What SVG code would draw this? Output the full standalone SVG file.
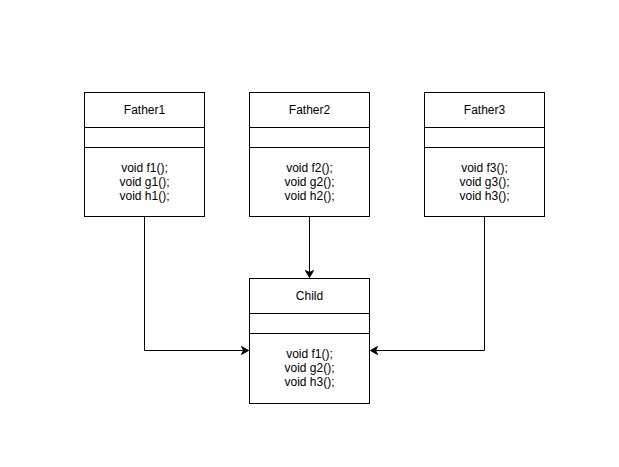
<svg xmlns="http://www.w3.org/2000/svg" width="619" height="467" viewBox="0 0 619 467">
<style>
.box{fill:#fff;stroke:#000;stroke-width:1}
.div{stroke:#000;stroke-width:1;fill:none}
.t{font-family:"Liberation Sans",Arial,Helvetica,sans-serif;font-size:12px;fill:#000;text-anchor:middle}
.edge{fill:none;stroke:#000;stroke-width:1}
</style>
<defs>
<marker id="arr" markerUnits="userSpaceOnUse" markerWidth="10" markerHeight="10" viewBox="0 0 10 10" refX="8" refY="5" orient="auto">
<path d="M1,1 L8,5 L1,9 L3,5 Z" fill="#000" stroke="#000" stroke-width="1"/>
</marker>
</defs>
<rect width="619" height="467" fill="#fff"/>
<g id="father1">
<rect class="box" x="84.5" y="92.5" width="120" height="124"/>
<path class="div" d="M84.5 127.5H204.5M84.5 147.5H204.5"/>
<text class="t" x="144.5" y="114">Father1</text>
<text class="t" x="144.5" y="172">void f1();</text>
<text class="t" x="144.5" y="186">void g1();</text>
<text class="t" x="144.5" y="200">void h1();</text>
</g>
<g id="father2">
<rect class="box" x="249.5" y="92.5" width="120" height="124"/>
<path class="div" d="M249.5 127.5H369.5M249.5 147.5H369.5"/>
<text class="t" x="309.5" y="114">Father2</text>
<text class="t" x="309.5" y="172">void f2();</text>
<text class="t" x="309.5" y="186">void g2();</text>
<text class="t" x="309.5" y="200">void h2();</text>
</g>
<g id="father3">
<rect class="box" x="424.5" y="92.5" width="120" height="124"/>
<path class="div" d="M424.5 127.5H544.5M424.5 147.5H544.5"/>
<text class="t" x="484.5" y="114">Father3</text>
<text class="t" x="484.5" y="172">void f3();</text>
<text class="t" x="484.5" y="186">void g3();</text>
<text class="t" x="484.5" y="200">void h3();</text>
</g>
<g id="child">
<rect class="box" x="249.5" y="278.5" width="120" height="125"/>
<path class="div" d="M249.5 313.5H369.5M249.5 333.5H369.5"/>
<text class="t" x="309.5" y="300">Child</text>
<text class="t" x="309.5" y="358">void f1();</text>
<text class="t" x="309.5" y="372">void g2();</text>
<text class="t" x="309.5" y="386">void h3();</text>
</g>
<g id="connectors">
<path class="edge" d="M144.5 216.5V350.5H248.5" marker-end="url(#arr)"/>
<path class="edge" d="M309.5 216.5V277.5" marker-end="url(#arr)"/>
<path class="edge" d="M484.5 216.5V350.5H370.5" marker-end="url(#arr)"/>
</g>
</svg>
